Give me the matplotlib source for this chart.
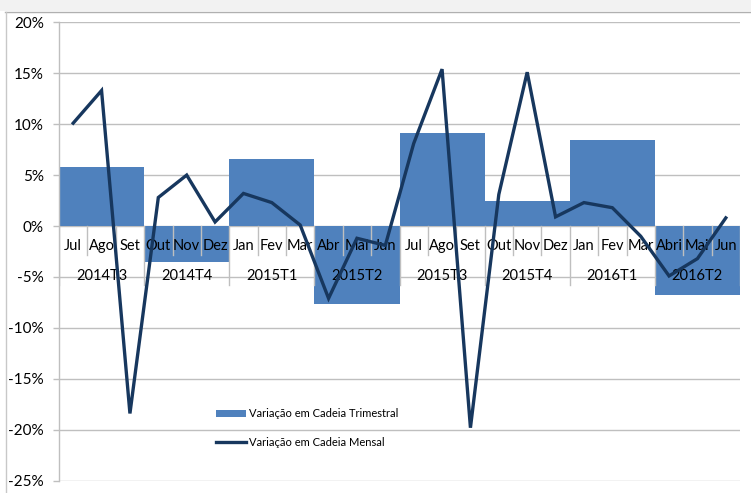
import matplotlib
matplotlib.use("Agg")
import matplotlib.pyplot as plt
from matplotlib.patches import Rectangle, Patch
from matplotlib.lines import Line2D
import numpy as np

plt.rcParams['font.family'] = ['Lato', 'DejaVu Sans']

months = ["Jul", "Ago", "Set", "Out", "Nov", "Dez", "Jan", "Fev", "Mar", "Abr", "Mai", "Jun",
          "Jul", "Ago", "Set", "Out", "Nov", "Dez", "Jan", "Fev", "Mar", "Abri", "Mai", "Jun"]
quarters = ["2014T3", "2014T4", "2015T1", "2015T2", "2015T3", "2015T4", "2016T1", "2016T2"]
quarterly = [5.8, -3.5, 6.6, -7.7, 9.1, 2.5, 8.4, -6.8]
monthly = [10.1, 13.3, -18.4, 2.8, 5.0, 0.4, 3.2, 2.3, 0.1, -7.1, -1.2, -1.9,
           8.1, 15.4, -19.8, 3.1, 15.1, 0.9, 2.3, 1.8, -1.0, -4.9, -3.2, 0.8]
yticks = [20, 15, 10, 5, 0, -5, -10, -15, -20, -25]

W, H = 751, 493
fig = plt.figure(figsize=(W / 100, H / 100), dpi=100)
fig.patch.set_facecolor("white")

# outer frame decorations
fig.add_artist(Rectangle((0, 1 - 11 / H), 1, 11 / H, transform=fig.transFigure,
                         facecolor="#f2f2f2", edgecolor="none", zorder=0))
fig.add_artist(Line2D([5 / W, 1], [1 - 11.5 / H, 1 - 11.5 / H], transform=fig.transFigure,
                      color="#b0b0b0", lw=1.0))
fig.add_artist(Line2D([5.5 / W, 5.5 / W], [0, 1 - 11.5 / H], transform=fig.transFigure,
                      color="#c8c8c8", lw=1.0))

left, right = 59 / W, 740 / W
top, bottom = 1 - 22.3 / H, 1 - 480.7 / H
ax = fig.add_axes([left, bottom, right - left, top - bottom])

grid_c = "#bfbfbf"
ax.set_ylim(-25, 20)
ax.set_xlim(-0.5, len(months) - 0.5)
ax.set_yticks(yticks)
ax.set_yticklabels([f"{v}%" for v in yticks], fontsize=11)
ax.set_xticks([])
ax.tick_params(axis="y", length=4, width=1, color=grid_c, pad=7, colors="black")
ax.tick_params(axis="y", color=grid_c)
for s in ["top", "right", "bottom"]:
    ax.spines[s].set_visible(False)
ax.spines["left"].set_color(grid_c)
ax.spines["left"].set_linewidth(1)

for v in yticks:
    ax.axhline(v, color=grid_c, lw=1, zorder=0)

# quarterly bars
xq = np.arange(len(quarters)) * 3 + 1
ax.bar(xq, quarterly, width=3, color="#4F81BD", zorder=1)

# category axis separators
for i in range(len(months) + 1):
    xb = i - 0.5
    if i % 3 == 0:
        ax.plot([xb, xb], [0, -5.8], color=grid_c, lw=1, zorder=2)
    else:
        ax.plot([xb, xb], [0, -2.85], color=grid_c, lw=1, zorder=2)

# labels
for i, m in enumerate(months):
    ax.text(i, -1.92, m, ha="center", va="center", fontsize=10.5, zorder=3)
for q, lab in zip(xq, quarters):
    ax.text(q, -4.95, lab, ha="center", va="center", fontsize=10.5, zorder=3)

# monthly line
ax.plot(np.arange(len(months)), monthly, color="#17375E", lw=2.4, zorder=4,
        solid_joinstyle="miter")

handles = [Patch(facecolor="#4F81BD", edgecolor="none"),
           Line2D([], [], color="#17375E", lw=2.4)]
fig.legend(handles, ["Variação em Cadeia Trimestral", "Variação em Cadeia Mensal"],
           loc="center left", bbox_to_anchor=(216 / W, 1 - 428 / H), frameon=False,
           fontsize=8, handlelength=2.7, handletextpad=0.3, labelspacing=1.55,
           borderpad=0, borderaxespad=0)

fig.savefig("out.png", dpi=100)
